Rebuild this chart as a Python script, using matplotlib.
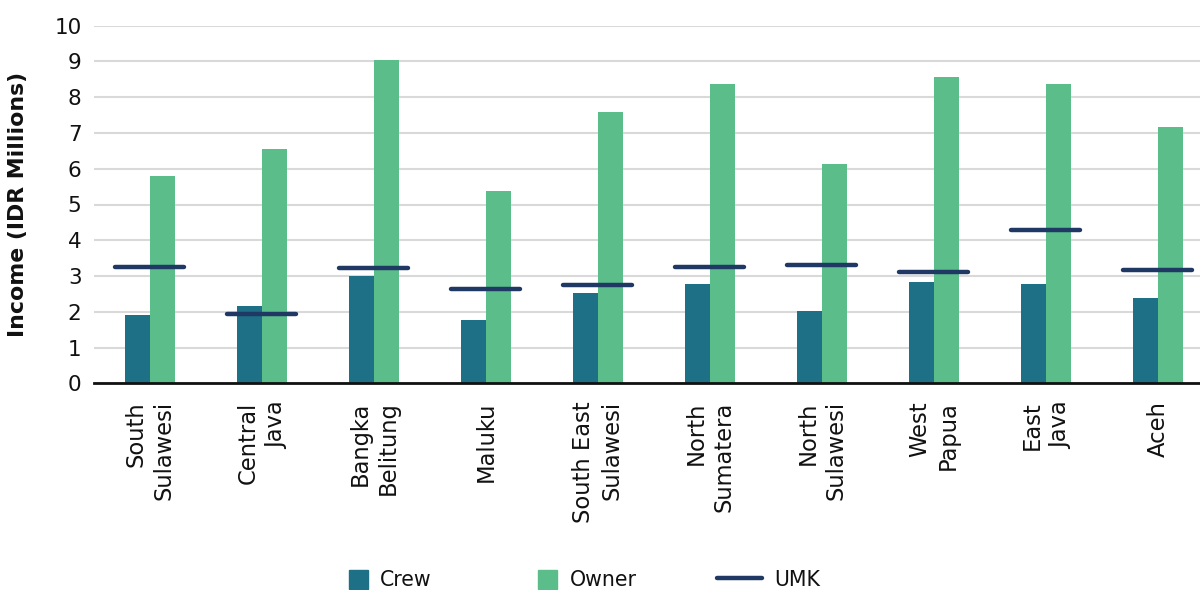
import matplotlib
matplotlib.use("Agg")
import matplotlib.pyplot as plt
from matplotlib.patches import Rectangle
from matplotlib.legend_handler import HandlerPatch
from matplotlib.lines import Line2D
import numpy as np

plt.rcParams['font.family'] = ['DejaVu Sans']

categories = ["South\nSulawesi", "Central\nJava", "Bangka\nBelitung", "Maluku",
              "South East\nSulawesi", "North\nSumatera", "North\nSulawesi",
              "West\nPapua", "East\nJava", "Aceh"]
crew = [1.92, 2.17, 3.00, 1.78, 2.52, 2.77, 2.03, 2.83, 2.78, 2.39]
owner = [5.80, 6.55, 9.03, 5.38, 7.60, 8.37, 6.13, 8.56, 8.38, 7.18]
umk = [3.24, 1.95, 3.22, 2.64, 2.75, 3.24, 3.30, 3.12, 4.29, 3.16]
yticks = [0, 1, 2, 3, 4, 5, 6, 7, 8, 9, 10]

c_crew = "#1d7085"
c_owner = "#5bbd8a"
c_umk = "#1f3864"

fig = plt.figure(figsize=(12, 5.9), dpi=100)
W, H = 1200, 590
ax = fig.add_axes([94 / W, 1 - 383.3 / H, 1106 / W, (383.3 - 25.7) / H])

x = np.arange(len(categories))
bw = 0.22
ax.bar(x - bw / 2, crew, width=bw, color=c_crew, label="Crew", zorder=3)
ax.bar(x + bw / 2, owner, width=bw, color=c_owner, label="Owner", zorder=3)
ax.hlines(umk, x - 0.31, x + 0.30, colors=c_umk, linewidth=3.2, zorder=4,
          capstyle="round")

ax.set_xlim(-0.5, -0.5 + 1106 / 112)
ax.set_ylim(0, 10)
ax.set_yticks(yticks)
ax.set_yticklabels([str(v) for v in yticks])
ax.set_xticks(x)
ax.set_xticklabels(categories, rotation=90, ha="center", va="top",
                   multialignment="right", linespacing=1.3)
ax.tick_params(axis="x", length=0, pad=13, labelsize=16.3, colors="#111111")
ax.tick_params(axis="y", length=0, pad=9, labelsize=15.5, colors="#111111")
ax.grid(axis="y", color="#d9d9d9", linewidth=1.5, zorder=0)
for s in ["top", "right", "left"]:
    ax.spines[s].set_visible(False)
ax.spines["bottom"].set_linewidth(2)
ax.spines["bottom"].set_color("#111111")
ax.spines["bottom"].set_zorder(5)

ax.set_ylabel("Income (IDR Millions)", fontsize=15.8, fontweight="bold", color="#111111")
ax.yaxis.set_label_coords(-(94 - 28) / 1106, 0.5)


def square_patch(legend, orig_handle, xdescent, ydescent, width, height, fontsize):
    s = height
    return Rectangle((-xdescent + width - s, -ydescent), s, s)


handles = [Rectangle((0, 0), 1, 1, color=c_crew),
           Rectangle((0, 0), 1, 1, color=c_owner),
           Line2D([0], [0], color=c_umk, linewidth=3.2, solid_capstyle="round")]
labels = ["Crew", "Owner", "UMK"]
leg = fig.legend(handles, labels, loc="center", bbox_to_anchor=(571.5 / W, 1 - 580 / H),
                 ncol=3, frameon=False, fontsize=14.8, handlelength=2.2,
                 handleheight=1.07, handletextpad=0.6, columnspacing=3.9,
                 handler_map={Rectangle: HandlerPatch(patch_func=square_patch)})
for t in leg.get_texts():
    t.set_color("#111111")

fig.savefig("out.png", dpi=100)
